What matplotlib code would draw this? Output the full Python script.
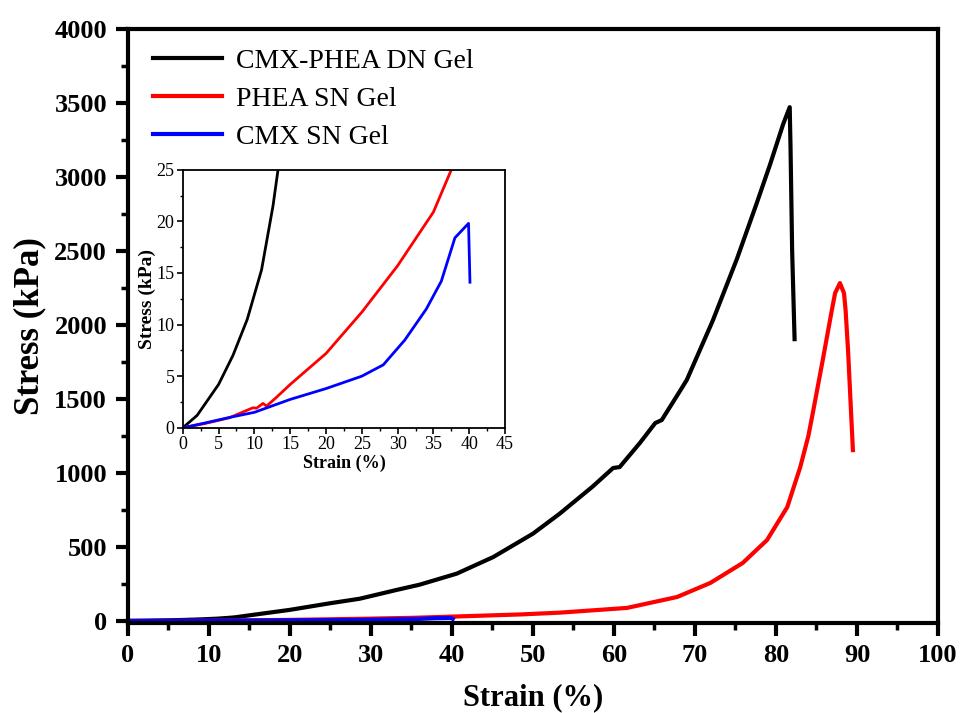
import matplotlib
matplotlib.use("Agg")
import matplotlib.pyplot as plt
from matplotlib.ticker import MultipleLocator

plt.rcParams['font.family'] = ['Liberation Serif', 'DejaVu Serif']

# stress-strain curves (strain %, stress kPa)
dn_strain = [0, 1, 2, 3, 5, 7, 9, 11, 12.6, 13.3, 15, 20, 25, 28.6, 33.2, 36, 40.6, 45.1,
             50, 53.3, 57.4, 59.9, 60.7, 63.2, 65.1, 65.9, 68.1, 69, 72.2, 75.2, 77.6,
             79.3, 80.9, 81.7, 81.8, 82.0, 82.3]
dn_stress = [0, 0.6, 1.2, 2.2, 4.2, 7, 10.5, 15.3, 21.5, 25, 38, 75, 120, 150, 210, 245, 320, 432,
             590, 725, 910, 1034, 1040, 1203, 1338, 1358, 1550, 1630, 2030, 2450, 2820,
             3090, 3360, 3473, 3200, 2500, 1905]

phea_strain = [0, 3, 6.5, 9.8, 10.3, 11.2, 11.7, 13, 15, 20, 25, 30, 35, 37.5,
               41, 48.5, 53.3, 61.6, 67.8, 71.9, 75.9, 78.9, 81.4, 83, 84, 84.6,
               85.8, 86.9, 87.3, 87.9, 88.4, 88.6, 88.9, 89.5]
phea_stress = [0, 0.4, 0.97, 1.94, 1.9, 2.36, 2.1, 2.9, 4.2, 7.2, 11.2, 15.7, 20.9, 25,
               31, 44, 56, 88, 162, 257, 392, 547, 770, 1040, 1250, 1420,
               1770, 2101, 2216, 2284, 2216, 2100, 1831, 1155]

cmx_strain = [0, 3, 6.5, 10, 11, 15, 20, 25, 28, 31, 34, 36.1, 38, 39.9, 40.1]
cmx_stress = [0, 0.45, 1.0, 1.5, 1.75, 2.75, 3.8, 5.0, 6.1, 8.5, 11.5, 14.2, 18.4, 19.8, 14.1]

labels = ['CMX-PHEA DN Gel', 'PHEA SN Gel', 'CMX SN Gel']
colors = ['black', 'red', 'blue']
series = [(dn_strain, dn_stress), (phea_strain, phea_stress), (cmx_strain, cmx_stress)]

fig = plt.figure(figsize=(9.62, 7.13), dpi=100)
ax = fig.add_axes([0.133, 0.126, 0.842, 0.833])

for (x, y), c, lab in zip(series, colors, labels):
    ax.plot(x, y, color=c, lw=3, label=lab, solid_joinstyle='round')

ax.set_xlim(0, 100)
ax.set_ylim(-15, 4000)
ax.xaxis.set_major_locator(MultipleLocator(10))
ax.xaxis.set_minor_locator(MultipleLocator(5))
ax.yaxis.set_major_locator(MultipleLocator(500))
ax.yaxis.set_minor_locator(MultipleLocator(250))
ax.tick_params(which='major', direction='out', length=9, width=3, labelsize=19, pad=6)
ax.tick_params(which='minor', direction='out', length=5, width=2.5)
for lab in ax.get_xticklabels() + ax.get_yticklabels():
    lab.set_fontweight('bold')
for sp in ax.spines.values():
    sp.set_linewidth(3)
ax.set_xlabel('Strain (%)', fontsize=22, fontweight='bold', labelpad=12)
ax.set_ylabel('Stress (kPa)', fontsize=25, fontweight='bold', labelpad=6)

ax.legend(loc='upper left', bbox_to_anchor=(0.0, 1.01), frameon=False, fontsize=20,
          handlelength=2.5, handletextpad=0.5, labelspacing=0.45)

# inset: low strain region
ins = fig.add_axes([0.190, 0.400, 0.335, 0.362])
for (x, y), c in zip(series, colors):
    ins.plot(x, y, color=c, lw=2, solid_joinstyle='round')
ins.set_xlim(0, 45)
ins.set_ylim(0, 25)
ins.xaxis.set_major_locator(MultipleLocator(5))
ins.xaxis.set_minor_locator(MultipleLocator(2.5))
ins.yaxis.set_major_locator(MultipleLocator(5))
ins.yaxis.set_minor_locator(MultipleLocator(2.5))
ins.tick_params(which='major', direction='out', length=4, width=1.2, labelsize=13, pad=2)
ins.tick_params(which='minor', direction='out', length=2, width=1)
for sp in ins.spines.values():
    sp.set_linewidth(1.3)
ins.set_xlabel('Strain (%)', fontsize=13, fontweight='bold', labelpad=1)
ins.set_ylabel('Stress (kPa)', fontsize=14, fontweight='bold', labelpad=0)

fig.savefig('out.png', dpi=100)
